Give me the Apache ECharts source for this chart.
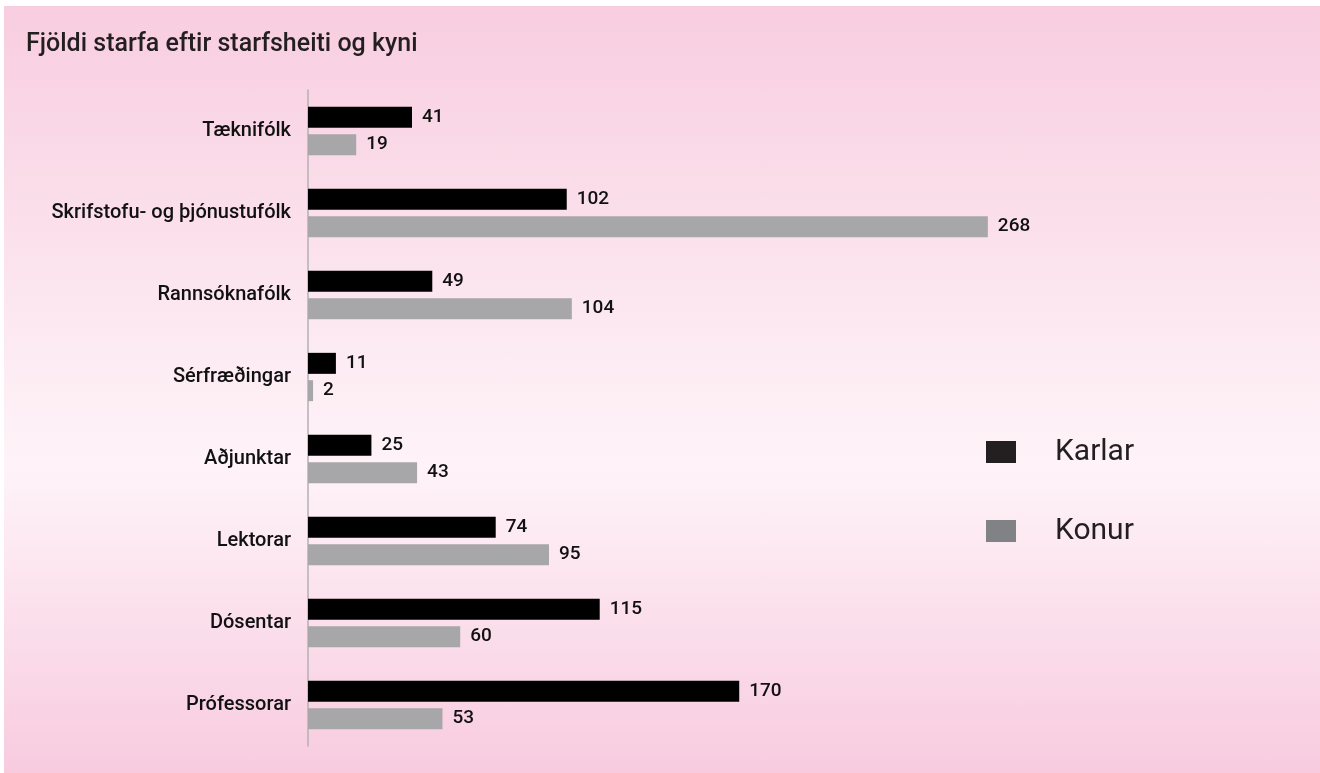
<!DOCTYPE html>
<html>
<head>
<meta charset="utf-8">
<script src="https://cdn.jsdelivr.net/npm/echarts@6/dist/echarts.min.js"></script>
<style>
  html, body { margin: 0; padding: 0; background: #fff; }
  #chart {
    position: absolute; left: 4px; top: 6px; width: 1316px; height: 767px;
    background: linear-gradient(to bottom, #f8cde0 0%, #fdeef4 50%, #fef3f8 60%, #f8cbdf 100%);
  }
</style>
</head>
<body>
<div id="chart"></div>
<script>
// 类别 (上到下)
const categories = ['Tæknifólk', 'Skrifstofu- og þjónustufólk', 'Rannsóknafólk', 'Sérfræðingar', 'Aðjunktar', 'Lektorar', 'Dósentar', 'Prófessorar']
const karlar = [41, 102, 49, 11, 25, 74, 115, 170]
const konur = [19, 268, 104, 2, 43, 95, 60, 53]
const seriesNames = ['Karlar', 'Konur']
const legendColors = ['#231f20', '#808285']

const font = 'Roboto, "DejaVu Sans", sans-serif'

let chart = echarts.init(document.getElementById('chart'))

const valueLabel = {
  show: true,
  position: 'right',
  distance: 10,
  color: '#111',
  fontSize: 19,
  fontWeight: 500,
  fontFamily: font
}

chart.setOption({
  animation: false,
  title: {
    text: 'Fjöldi starfa eftir starfsheiti og kyni',
    left: 17,
    top: 21,
    textStyle: { color: '#231f20', fontSize: 25, fontWeight: 500, fontFamily: font }
  },
  legend: {
    orient: 'vertical',
    left: 977,
    top: 426,
    itemWidth: 30,
    itemHeight: 22,
    itemGap: 49,
    icon: 'rect',
    data: seriesNames.map((n, i) => ({ name: n, itemStyle: { color: legendColors[i] } })),
    textStyle: { color: '#231f20', fontSize: 30, lineHeight: 30, fontFamily: font, padding: [0, 0, 0, 34] }
  },
  grid: {
    left: 304,
    top: 84,
    width: 761,
    height: 656,
    containLabel: false
  },
  xAxis: {
    type: 'value',
    min: 0,
    max: 300,
    show: false
  },
  yAxis: {
    type: 'category',
    data: categories,
    inverse: true,
    axisLine: { show: true, lineStyle: { color: '#b3b0b3', width: 1.5 } },
    axisTick: { show: false },
    axisLabel: { color: '#111', fontSize: 20, fontWeight: 500, fontFamily: font, margin: 17 }
  },
  series: [
    {
      name: 'Karlar',
      type: 'bar',
      data: karlar,
      barWidth: 21,
      barGap: '30%',
      itemStyle: { color: '#000' },
      label: valueLabel
    },
    {
      name: 'Konur',
      type: 'bar',
      data: konur,
      barWidth: 21,
      itemStyle: { color: '#a7a6a9' },
      label: valueLabel
    }
  ]
})

window.addEventListener('resize', function() {
  chart.resize()
})
</script>
</body>
</html>
